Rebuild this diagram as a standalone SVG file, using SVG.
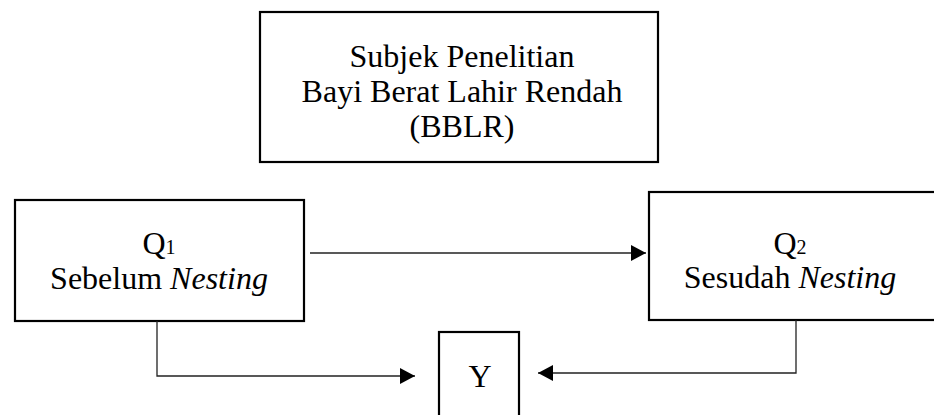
<svg xmlns="http://www.w3.org/2000/svg" width="934" height="415" viewBox="0 0 934 415">
<style>
.box{fill:#fff;stroke:#000;stroke-width:2.2}
.lbl{font-family:"Liberation Serif","Times New Roman",serif;font-size:32px;fill:#000;text-anchor:middle}
.sub{font-size:20px}
.it{font-style:italic}
.con{fill:none;stroke:#222;stroke-width:1.3}
</style>
<defs>
<marker id="ah" markerUnits="userSpaceOnUse" markerWidth="16" markerHeight="16" viewBox="0 0 16 16" refX="15" refY="8" orient="auto">
<path d="M0,0 L15,8 L0,16 Z" fill="#000"/>
</marker>
</defs>
<rect width="934" height="415" fill="#fff"/>
<g id="subjek">
<rect class="box" x="260" y="12" width="398" height="150"/>
<text class="lbl" x="462" y="67">Subjek Penelitian</text>
<text class="lbl" x="462" y="102">Bayi Berat Lahir Rendah</text>
<text class="lbl" x="462" y="137">(BBLR)</text>
</g>
<g id="q1">
<rect class="box" x="15" y="200" width="289" height="121"/>
<text class="lbl" x="159" y="254">Q<tspan class="sub">1</tspan></text>
<text class="lbl" x="159" y="289">Sebelum <tspan class="it">Nesting</tspan></text>
</g>
<g id="q2">
<rect class="box" x="649" y="192" width="300" height="128"/>
<text class="lbl" x="790" y="254">Q<tspan class="sub">2</tspan></text>
<text class="lbl" x="790" y="288">Sesudah <tspan class="it">Nesting</tspan></text>
</g>
<g id="y">
<rect class="box" x="439" y="332" width="80" height="100"/>
<text class="lbl" x="480" y="387">Y</text>
</g>
<g id="connectors">
<path class="con" d="M310,253 H646" marker-end="url(#ah)"/>
<path class="con" d="M157,321 V376 H415" marker-end="url(#ah)"/>
<path class="con" d="M796,320 V373 H538" marker-end="url(#ah)"/>
</g>
</svg>
